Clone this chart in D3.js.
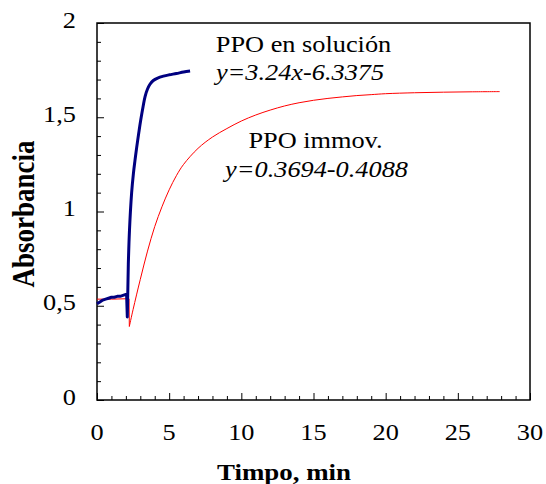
<!DOCTYPE html>
<html>
<head>
<meta charset="utf-8">
<script src="https://cdn.jsdelivr.net/npm/d3@7"></script>
<style>
  body { margin: 0; background: #fff; }
  svg text { font-family: "Liberation Serif", "Times New Roman", serif; fill: #000; }
</style>
</head>
<body>
<script>
// --- data ---
var solT = [0, 0.2, 0.4, 0.6, 0.8, 1.0, 1.2, 1.4, 1.6, 1.8, 2.0, 2.05, 2.1, 2.17, 2.25, 2.4, 2.52, 2.63, 2.75, 2.9, 3.03, 3.2, 3.33, 3.5, 3.67, 3.9, 4.2, 4.6, 5.0, 5.5, 6.0, 6.45];
var solA = [0.51, 0.52, 0.53, 0.535, 0.54, 0.545, 0.545, 0.55, 0.55, 0.555, 0.56, 0.56, 0.44, 0.72, 0.9, 1.1, 1.2, 1.27, 1.34, 1.42, 1.485, 1.56, 1.61, 1.65, 1.675, 1.695, 1.708, 1.718, 1.725, 1.732, 1.74, 1.745];

var immT = [0, 1, 2, 2.22, 2.24, 2.5, 3.0, 3.5, 4.0, 4.5, 5.0, 5.5, 6.0, 7.0, 8.0, 9.0, 10, 11, 12, 13, 14, 15, 16, 17, 18, 19, 20, 22, 24, 26, 27.9];
var immA = [0.535, 0.535, 0.537, 0.537, 0.39, 0.48, 0.64, 0.79, 0.92, 1.025, 1.115, 1.19, 1.25, 1.335, 1.395, 1.44, 1.48, 1.512, 1.538, 1.56, 1.577, 1.59, 1.6, 1.608, 1.615, 1.62, 1.625, 1.63, 1.633, 1.635, 1.636];

var xTicks = [0, 5, 10, 15, 20, 25, 30];
var yTicks = [0, 0.5, 1, 1.5, 2];
var yTickLabels = ["0", "0,5", "1", "1,5", "2"];

var W = 546, H = 484;
var margin = {left: 97, right: 16, top: 23, bottom: 84};
var serif = "Liberation Serif, Times New Roman, serif";
var stretch = 1.17; // the text in the picture is wider than it is tall

var svg = d3.select("body").append("svg")
  .attr("width", W)
  .attr("height", H)
  .attr("font-family", serif);

var x = d3.scaleLinear().domain([0, 30]).range([margin.left, W - margin.right]);
var y = d3.scaleLinear().domain([0, 2]).range([H - margin.bottom, margin.top]);

// frame
svg.append("rect")
  .attr("x", x(0))
  .attr("y", y(2))
  .attr("width", x(30) - x(0))
  .attr("height", y(0) - y(2))
  .attr("fill", "none")
  .attr("stroke", "black")
  .attr("stroke-width", 1.5);

// minor ticks (inward)
var xMinor = d3.range(0, 31, 1).filter(function (d) { return d % 5 !== 0; });
var yMinor = d3.range(0, 21, 1).map(function (d) { return d / 10; }).filter(function (d, i) { return i % 5 !== 0; });

svg.append("g")
  .attr("transform", `translate(0, ${y(0)})`)
  .call(d3.axisTop(x).tickValues(xMinor).tickSize(4).tickFormat(""))
  .call(function (g) { g.select(".domain").remove(); });

svg.append("g")
  .attr("transform", `translate(${x(0)}, 0)`)
  .call(d3.axisRight(y).tickValues(yMinor).tickSize(4).tickFormat(""))
  .call(function (g) { g.select(".domain").remove(); });

// major ticks
svg.append("g")
  .attr("transform", `translate(0, ${y(0)})`)
  .call(d3.axisTop(x).tickValues(xTicks).tickSize(7).tickFormat(""))
  .call(function (g) { g.select(".domain").remove(); });

svg.append("g")
  .attr("transform", `translate(${x(0)}, 0)`)
  .call(d3.axisRight(y).tickValues(yTicks).tickSize(7).tickFormat(""))
  .call(function (g) { g.select(".domain").remove(); });

svg.selectAll(".tick line").attr("stroke", "black").attr("stroke-width", 1);

function label(xp, yp, str, size) {
  return svg.append("text")
    .attr("transform", `translate(${xp}, ${yp}) scale(${stretch}, 1)`)
    .attr("font-family", serif)
    .attr("font-size", size || 22.5)
    .text(str);
}

// tick labels
xTicks.forEach(function (d) {
  label(x(d), y(0) + 40, d).attr("text-anchor", "middle");
});

yTicks.forEach(function (d, i) {
  label(x(0) - 21, y(d) + 4.5, yTickLabels[i]).attr("text-anchor", "end");
});

// axis titles
label(284, 480, "Timpo, min", 23)
  .attr("text-anchor", "middle")
  .attr("font-weight", "bold");

svg.append("text")
  .attr("transform", `translate(34, 214) scale(${stretch}, 1) rotate(-90)`)
  .attr("text-anchor", "middle")
  .attr("font-family", serif)
  .attr("font-size", 27)
  .attr("font-weight", "bold")
  .text("Absorbancia");

// curves
var straight = d3.line()
  .x(function (d) { return x(d[0]); })
  .y(function (d) { return y(d[1]); });
var smooth = d3.line()
  .x(function (d) { return x(d[0]); })
  .y(function (d) { return y(d[1]); })
  .curve(d3.curveCatmullRom.alpha(0.5));

var immData = immT.map(function (t, i) { return [t, immA[i]]; });
var solData = solT.map(function (t, i) { return [t, solA[i]]; });

svg.append("path")
  .attr("d", straight(immData.slice(0, 5)) + smooth(immData.slice(4)).replace(/^M/, "L"))
  .attr("fill", "none")
  .attr("stroke", "#ff0000")
  .attr("stroke-width", 1);

svg.append("path")
  .attr("d", straight(solData.slice(0, 14)) + smooth(solData.slice(13)).replace(/^M/, "L"))
  .attr("fill", "none")
  .attr("stroke", "#000080")
  .attr("stroke-width", 3)
  .attr("stroke-linejoin", "round");

// annotations
label(303.5, 52, "PPO en solución").attr("text-anchor", "middle");
label(300, 80, "y=3.24x-6.3375").attr("text-anchor", "middle").attr("font-style", "italic");
label(315.5, 148, "PPO immov.").attr("text-anchor", "middle");
label(316.5, 177, "y=0.3694-0.4088").attr("text-anchor", "middle").attr("font-style", "italic");
</script>
</body>
</html>
